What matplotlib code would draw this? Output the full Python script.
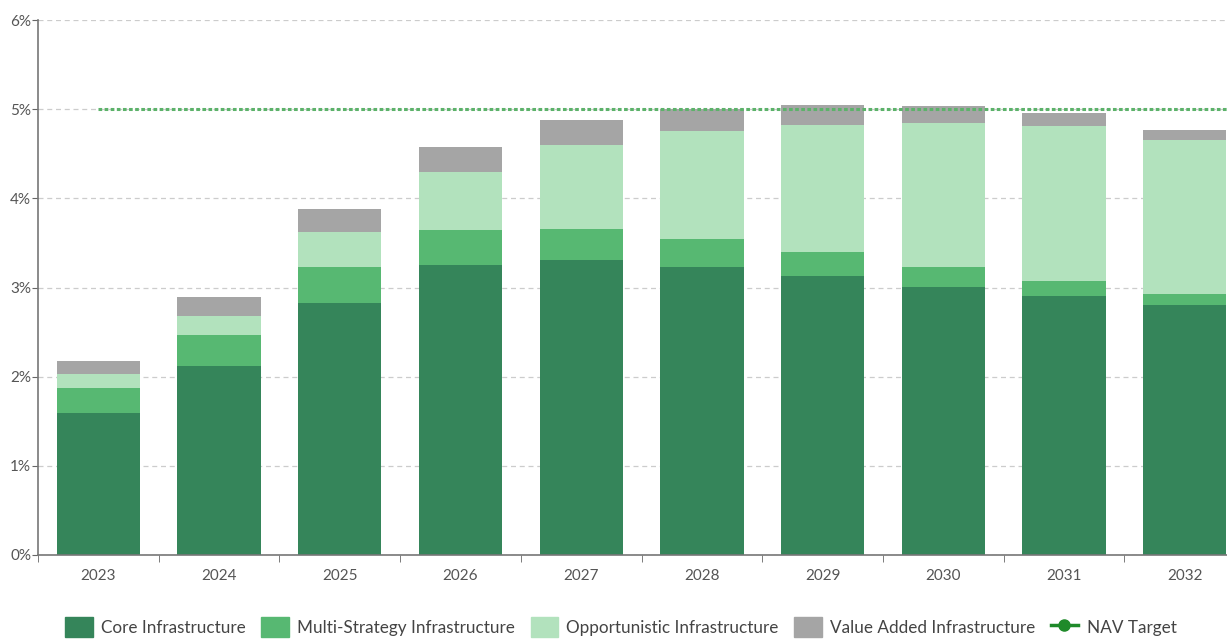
import matplotlib.pyplot as plt
from matplotlib.patches import Patch
from matplotlib.lines import Line2D
from matplotlib.ticker import FixedLocator, PercentFormatter

years = ["2023", "2024", "2025", "2026", "2027", "2028", "2029", "2030", "2031", "2032"]
core = [1.59, 2.12, 2.83, 3.25, 3.31, 3.23, 3.13, 3.01, 2.91, 2.80]
multi = [0.28, 0.35, 0.40, 0.39, 0.35, 0.31, 0.27, 0.22, 0.16, 0.13]
opportunistic = [0.16, 0.21, 0.39, 0.65, 0.94, 1.21, 1.42, 1.62, 1.74, 1.72]
value_added = [0.15, 0.21, 0.26, 0.29, 0.28, 0.25, 0.23, 0.19, 0.15, 0.12]
nav_target = 5.0

series = [
  ("Core Infrastructure", core, "#35855a"),
  ("Multi-Strategy Infrastructure", multi, "#57b872"),
  ("Opportunistic Infrastructure", opportunistic, "#b2e2bd"),
  ("Value Added Infrastructure", value_added, "#a5a5a5"),
]

plt.rcParams['font.family'] = ['Lato', 'DejaVu Sans']

fig = plt.figure(figsize=(12.27, 6.4), dpi=100)
ax = fig.add_axes([38 / 1227, 1 - 555 / 640, 1 - 38 / 1227, (555 - 20) / 640])

x = list(range(len(years)))
bottom = [0.0] * len(years)
handles = []
for name, vals, color in series:
  ax.bar(x, vals, width=0.69, bottom=bottom, color=color, zorder=2)
  bottom = [b + v for b, v in zip(bottom, vals)]
  handles.append(Patch(facecolor=color, edgecolor=color, label=name))

# NAV target line from first category to the right edge
ax.plot([0, 9.35], [nav_target, nav_target], color="#5cb26a", linestyle=(0, (1.2, 0.8)),
        linewidth=2.2, zorder=3)
handles.append(Line2D([0], [0], color="#1f8a2a", marker="o", markersize=8,
                      linewidth=2.5, label="NAV Target"))

ax.set_xlim(-0.5, 9.35)
ax.set_ylim(0, 6)
ax.set_yticks([0, 1, 2, 3, 4, 5, 6])
ax.yaxis.set_major_formatter(PercentFormatter(decimals=0))
ax.yaxis.grid(True, linestyle=(0, (4, 3)), color="#cccccc", linewidth=0.9, zorder=0)

ax.set_xticks(x)
ax.set_xticklabels(years)
ax.xaxis.set_minor_locator(FixedLocator([i + 0.5 for i in range(-1, 10)]))
ax.tick_params(axis="x", which="major", length=0, pad=10, labelsize=11, labelcolor="#555555")
ax.tick_params(axis="x", which="minor", length=5, color="#666666")
ax.tick_params(axis="y", length=4, color="#666666", labelsize=11, labelcolor="#555555", pad=1)

for side in ["top", "right"]:
  ax.spines[side].set_visible(False)
ax.spines["left"].set_color("#777777")
ax.spines["bottom"].set_color("#777777")
ax.spines["left"].set_linewidth(1.2)
ax.spines["bottom"].set_linewidth(1.2)

fig.legend(handles=handles, loc="center", bbox_to_anchor=(621 / 1227, 1 - 627 / 640),
           ncol=5, frameon=False, fontsize=12.3, handlelength=1.6, handleheight=1.4,
           columnspacing=0.9, handletextpad=0.5, labelcolor="#444444")

fig.savefig("out.png", dpi=100)
